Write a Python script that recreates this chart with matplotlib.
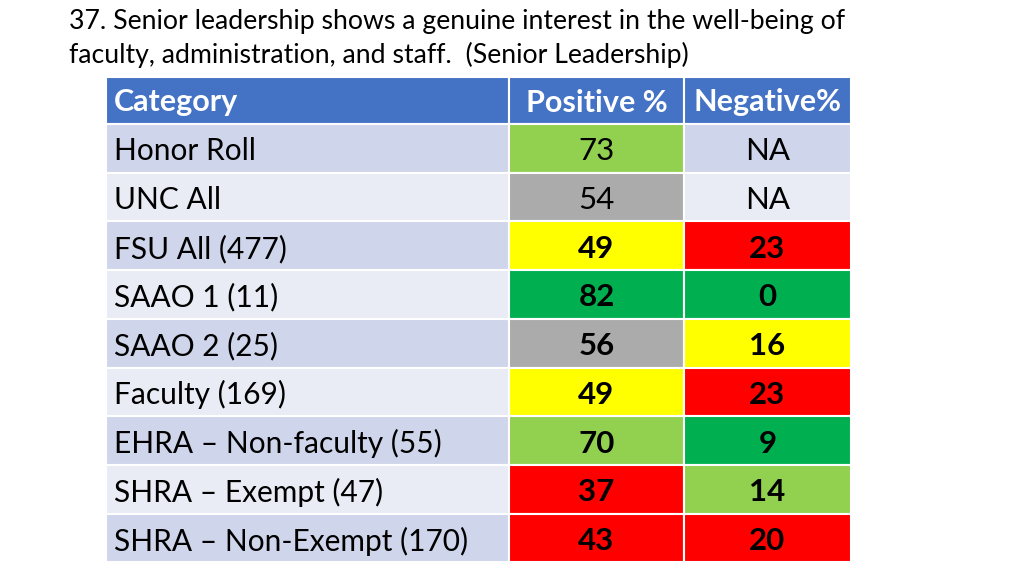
import matplotlib
matplotlib.use("Agg")
import matplotlib.pyplot as plt
from matplotlib.patches import Rectangle

plt.rcParams['font.family'] = ['Lato', 'DejaVu Sans']

# table content
title = ("37. Senior leadership shows a genuine interest in the well-being of\n"
         "faculty, administration, and staff.  (Senior Leadership)")
headers = ['Category', 'Positive %', 'Negative%']
categories = ['Honor Roll', 'UNC All', 'FSU All (477)', 'SAAO 1 (11)', 'SAAO 2 (25)',
              'Faculty (169)', 'EHRA \u2013 Non-faculty (55)', 'SHRA \u2013 Exempt (47)',
              'SHRA \u2013 Non-Exempt (170)']
positive = ['73', '54', '49', '82', '56', '49', '70', '37', '43']
negative = ['NA', 'NA', '23', '0', '16', '23', '9', '14', '20']
# cell fill keys
pos_colors = ['lgreen', 'gray', 'yellow', 'green', 'gray', 'yellow', 'lgreen', 'red', 'red']
neg_colors = [None, None, 'red', 'green', 'yellow', 'red', 'green', 'lgreen', 'red']

palette = {'lgreen': '#92D050', 'gray': '#ABABAB', 'yellow': '#FFFF00',
           'green': '#00B050', 'red': '#FF0000'}
band = ['#CFD5EA', '#E9EBF5']
head_col = '#4472C4'

fig = plt.figure(figsize=(10.24, 5.76), dpi=100)
ax = fig.add_axes([0, 0, 1, 1])
ax.set_xlim(0, 1024)
ax.set_ylim(576, 0)
ax.axis('off')

col_x = [106, 509, 684, 851]
top = 77
head_h = 47
row_h = 48.7

ax.text(69, 22, title.split('\n')[0], fontsize=19.2, va='center', ha='left')
ax.text(69, 55, title.split('\n')[1], fontsize=19.2, va='center', ha='left')

# header
for j, h in enumerate(headers):
    x0, x1 = col_x[j], col_x[j + 1]
    ax.add_patch(Rectangle((x0, top), x1 - x0, head_h, facecolor=head_col,
                           edgecolor='white', lw=1.5))
    if j == 0:
        ax.text(x0 + 8, top + head_h / 2 + 2, h, color='white', fontsize=22,
                fontweight='bold', va='center', ha='left')
    else:
        ax.text((x0 + x1) / 2, top + head_h / 2 + 2, h, color='white', fontsize=22,
                fontweight='bold', va='center', ha='center')

for i, cat in enumerate(categories):
    y0 = top + head_h + i * row_h
    bg = band[i % 2]
    cells = [(cat, bg, False),
             (positive[i], palette.get(pos_colors[i], bg), i >= 2),
             (negative[i], palette[neg_colors[i]] if neg_colors[i] else bg, i >= 2)]
    for j, (txt, fc, bold) in enumerate(cells):
        x0, x1 = col_x[j], col_x[j + 1]
        ax.add_patch(Rectangle((x0, y0), x1 - x0, row_h, facecolor=fc,
                               edgecolor='white', lw=1.5))
        if j == 0:
            ax.text(x0 + 8, y0 + row_h / 2 + 3, txt, fontsize=21.5, va='center', ha='left')
        else:
            ax.text((x0 + x1) / 2, y0 + row_h / 2 + 3, txt, fontsize=22.5, va='center',
                    ha='center', fontweight='bold' if bold else 'normal')

fig.savefig('out.png', dpi=100, facecolor='white')
